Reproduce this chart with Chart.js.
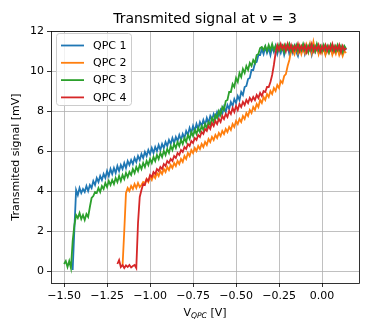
<!DOCTYPE html>
<html>
<head>
<meta charset="utf-8">
<script src="https://cdn.jsdelivr.net/npm/chart.js@4.4.1/dist/chart.umd.min.js"></script>
<style>
html,body{margin:0;padding:0;background:#fff;}
#wrap{width:374px;height:332px;}
</style>
</head>
<body>
<div id="wrap"><canvas id="c" width="374" height="332"></canvas></div>
<script>
const xGrid = [-1.50,-1.49,-1.48,-1.47,-1.46,-1.45,-1.44,-1.43,-1.42,-1.41,-1.40,-1.39,-1.38,-1.37,-1.36,-1.35,-1.34,-1.33,-1.32,-1.31,
-1.30,-1.29,-1.28,-1.27,-1.26,-1.25,-1.24,-1.23,-1.22,-1.21,-1.20,-1.19,-1.18,-1.17,-1.16,-1.15,-1.14,-1.13,-1.12,-1.11,
-1.10,-1.09,-1.08,-1.07,-1.06,-1.05,-1.04,-1.03,-1.02,-1.01,-1.00,-0.99,-0.98,-0.97,-0.96,-0.95,-0.94,-0.93,-0.92,-0.91,
-0.90,-0.89,-0.88,-0.87,-0.86,-0.85,-0.84,-0.83,-0.82,-0.81,-0.80,-0.79,-0.78,-0.77,-0.76,-0.75,-0.74,-0.73,-0.72,-0.71,
-0.70,-0.69,-0.68,-0.67,-0.66,-0.65,-0.64,-0.63,-0.62,-0.61,-0.60,-0.59,-0.58,-0.57,-0.56,-0.55,-0.54,-0.53,-0.52,-0.51,
-0.50,-0.49,-0.48,-0.47,-0.46,-0.45,-0.44,-0.43,-0.42,-0.41,-0.40,-0.39,-0.38,-0.37,-0.36,-0.35,-0.34,-0.33,-0.32,-0.31,
-0.30,-0.29,-0.28,-0.27,-0.26,-0.25,-0.24,-0.23,-0.22,-0.21,-0.20,-0.19,-0.18,-0.17,-0.16,-0.15,-0.14,-0.13,-0.12,-0.11,
-0.10,-0.09,-0.08,-0.07,-0.06,-0.05,-0.04,-0.03,-0.02,-0.01,0.00,0.01,0.02,0.03,0.04,0.05,0.06,0.07,0.08,0.09,
0.10,0.11,0.12,0.13,0.14];

// QPC 1 starts at V = -1.45
const qpc1Start = 5;
const qpc1 = [0.05,2.1,4.05,3.8,4.15,3.9,4.1,3.95,4.25,4.0,
4.3,4.15,4.5,4.3,4.65,4.45,4.75,4.55,4.85,4.65,
5.0,4.75,5.1,4.85,5.15,4.9,5.25,5.0,5.3,5.1,
5.4,5.15,5.5,5.3,5.55,5.35,5.65,5.45,5.75,5.55,
5.85,5.65,5.95,5.75,6.05,5.85,6.15,5.9,6.2,6.0,
6.3,6.05,6.35,6.15,6.45,6.25,6.55,6.35,6.65,6.4,
6.7,6.5,6.8,6.55,6.85,6.65,7.0,6.8,7.15,6.9,
7.25,7.0,7.35,7.1,7.45,7.25,7.55,7.3,7.65,7.4,
7.75,7.55,7.85,7.65,7.95,7.75,8.05,7.85,8.2,7.95,
8.3,8.1,8.45,8.25,8.6,8.4,8.75,8.55,8.95,8.8,
9.2,9.25,9.6,9.65,10.05,10.05,10.4,10.45,10.8,10.8,
11.1,10.85,11.2,10.9,11.15,10.8,11.2,10.95,11.25,10.85,
11.15,10.9,11.2,10.8,11.1,11.25,10.85,11.15,10.9,11.25,
10.95,10.75,11.15,10.95,11.25,10.85,11.15,10.95,11.2,10.8,
11.15,10.95,11.25,10.9,11.15,10.95,11.2,10.85,11.15,10.95,
11.25,10.9,11.15,10.95,11.2,10.9,11.15,10.95,11.2,11.05];

// QPC 2 starts at V = -1.16
const qpc2Start = 34;
const qpc2 = [0.25,2.0,3.9,4.15,4.0,4.25,4.1,4.35,4.15,4.4,
4.2,4.3,4.45,4.4,4.6,4.45,4.7,4.55,4.8,4.65,
4.9,4.75,5.0,4.85,5.1,4.95,5.2,5.05,5.3,5.15,
5.4,5.25,5.5,5.35,5.6,5.45,5.75,5.6,5.9,5.75,
6.05,5.9,6.15,6.0,6.25,6.1,6.35,6.2,6.45,6.3,
6.6,6.45,6.7,6.55,6.8,6.65,6.9,6.75,7.0,6.85,
7.1,6.95,7.2,7.05,7.35,7.2,7.5,7.35,7.6,7.45,
7.75,7.6,7.9,7.75,8.05,7.9,8.2,8.05,8.35,8.2,
8.55,8.4,8.7,8.55,8.85,8.7,9.0,8.85,9.15,9.0,
9.3,9.15,9.5,9.4,9.75,9.85,10.25,10.55,11.0,11.1,
10.85,11.2,10.9,11.25,10.85,11.15,10.9,11.3,10.95,11.35,
10.9,11.45,11.0,11.25,10.85,11.2,10.9,11.15,10.8,11.1,
10.9,11.2,10.8,11.05,10.85,11.15,10.8,11.05,10.75,11.0,
10.9];

// QPC 3 starts at V = -1.50
const qpc3Start = 0;
const qpc3 = [0.35,0.5,0.2,0.5,0.15,1.5,2.3,2.8,2.65,2.9,
2.6,2.8,2.55,2.85,2.7,3.2,3.65,3.75,3.95,3.9,
4.15,3.95,4.25,4.1,4.4,4.2,4.5,4.3,4.55,4.35,
4.65,4.45,4.75,4.5,4.8,4.6,4.9,4.7,4.95,4.8,
5.1,4.9,5.2,5.0,5.3,5.1,5.4,5.2,5.5,5.3,
5.6,5.4,5.7,5.5,5.8,5.6,5.9,5.7,6.0,5.8,
6.1,5.9,6.25,6.05,6.35,6.15,6.45,6.25,6.55,6.35,
6.65,6.45,6.8,6.6,6.95,6.75,7.05,6.85,7.15,6.95,
7.25,7.05,7.35,7.15,7.45,7.3,7.65,7.45,7.8,7.65,
8.0,7.8,8.2,8.05,8.5,8.55,8.95,8.95,9.35,9.2,
9.65,9.45,9.9,9.7,10.1,9.9,10.25,10.05,10.4,10.25,
10.55,10.4,10.8,10.85,11.15,11.2,11.05,11.25,11.0,11.3,
11.05,11.35,11.05,11.25,11.0,11.3,11.05,11.25,10.95,11.3,
11.1,11.35,11.0,11.25,11.05,11.3,11.0,11.25,11.05,11.35,
11.05,11.25,10.95,11.3,11.05,11.25,11.0,11.35,11.05,11.25,
11.0,11.3,11.05,11.25,10.95,11.3,11.05,11.25,11.0,11.3,
11.05,11.25,10.95,11.25,11.1];

// QPC 4 starts at V = -1.19
const qpc4Start = 31;
const qpc4 = [0.35,0.55,0.2,0.3,0.15,0.28,0.2,0.3,0.18,0.25,
0.3,0.15,2.4,3.7,4.05,4.35,4.3,4.6,4.5,4.8,
4.7,4.95,4.85,5.1,5.0,5.2,5.1,5.35,5.25,5.5,
5.4,5.6,5.5,5.75,5.65,5.9,5.8,6.05,5.95,6.2,
6.1,6.35,6.25,6.5,6.4,6.65,6.55,6.8,6.7,6.95,
6.85,7.1,7.0,7.25,7.1,7.4,7.25,7.5,7.35,7.6,
7.45,7.75,7.6,7.85,7.7,8.0,7.85,8.15,7.95,8.25,
8.05,8.35,8.2,8.45,8.3,8.55,8.4,8.65,8.5,8.7,
8.55,8.8,8.65,8.9,8.75,9.0,8.95,9.2,9.2,9.45,
9.8,10.3,10.9,11.3,11.05,11.35,11.1,11.3,11.0,11.35,
11.05,11.3,11.0,11.25,11.05,11.35,11.0,11.25,11.05,11.3,
10.95,11.25,11.05,11.35,11.0,11.25,11.05,11.3,10.95,11.25,
11.05,11.3,11.0,11.25,11.05,11.35,11.0,11.25,11.05,11.3,
10.95,11.25,11.05,11.15];

const seriesNames = ['QPC 1','QPC 2','QPC 3','QPC 4'];
const seriesColors = ['#1f77b4','#ff7f0e','#2ca02c','#d62728'];
const xTicks = [-1.5,-1.25,-1.0,-0.75,-0.5,-0.25,0.0];
const xTickLabels = ['\u22121.50','\u22121.25','\u22121.00','\u22120.75','\u22120.50','\u22120.25','0.00'];
const yTicks = [0,2,4,6,8,10,12];
const yTickLabels = ['0','2','4','6','8','10','12'];
const titleText = 'Transmited signal at \u03BD = 3';
const yTitle = 'Transmited signal [mV]';

function pts(start, ys){ return ys.map((y,i)=>({x:xGrid[start+i], y:y})); }

const FONT = "'DejaVu Sans', sans-serif";
const TICK_SIZE = 11;

const decor = {
  id:'decor',
  afterDatasetsDraw(chart){
    const ctx = chart.ctx, a = chart.chartArea;
    ctx.save();
    // spines
    ctx.strokeStyle = '#000'; ctx.lineWidth = 0.8;
    ctx.strokeRect(Math.round(a.left)+0.5, Math.round(a.top)+0.5, Math.round(a.right-a.left), Math.round(a.bottom-a.top));
    // legend
    const lx=56.5, ly=33.5, lw=75, lh=72, r=3;
    ctx.beginPath();
    ctx.moveTo(lx+r,ly); ctx.lineTo(lx+lw-r,ly); ctx.arcTo(lx+lw,ly,lx+lw,ly+r,r);
    ctx.lineTo(lx+lw,ly+lh-r); ctx.arcTo(lx+lw,ly+lh,lx+lw-r,ly+lh,r);
    ctx.lineTo(lx+r,ly+lh); ctx.arcTo(lx,ly+lh,lx,ly+lh-r,r);
    ctx.lineTo(lx,ly+r); ctx.arcTo(lx,ly,lx+r,ly,r); ctx.closePath();
    ctx.fillStyle='rgba(255,255,255,0.8)'; ctx.fill();
    ctx.strokeStyle='#cccccc'; ctx.lineWidth=1; ctx.stroke();
    ctx.font = TICK_SIZE+'px '+FONT; ctx.textBaseline='middle'; ctx.textAlign='left';
    for(let i=0;i<4;i++){
      const yy = 45.5 + i*17.3;
      ctx.strokeStyle=seriesColors[i]; ctx.lineWidth=1.8;
      ctx.beginPath(); ctx.moveTo(61,yy); ctx.lineTo(84,yy); ctx.stroke();
      ctx.fillStyle='#000'; ctx.fillText(seriesNames[i], 93, yy+0.5);
    }
    // title
    const cx = (a.left+a.right)/2;
    ctx.font = '14px '+FONT; ctx.textAlign='center'; ctx.textBaseline='alphabetic';
    ctx.fillStyle='#000';
    ctx.fillText(titleText, cx, 23);
    // x title with subscript
    ctx.font = TICK_SIZE+'px '+FONT;
    const p1='V', p3=' [V]';
    const subFont = 'italic 7.7px '+FONT;
    const w1 = ctx.measureText(p1).width, w3 = ctx.measureText(p3).width;
    ctx.font = subFont; const w2 = ctx.measureText('QPC').width;
    let sx = cx - (w1+w2+w3)/2; const by = 316;
    ctx.textAlign='left';
    ctx.font = TICK_SIZE+'px '+FONT; ctx.fillText(p1, sx, by); sx+=w1;
    ctx.font = subFont; ctx.fillText('QPC', sx, by+2); sx+=w2;
    ctx.font = TICK_SIZE+'px '+FONT; ctx.fillText(p3, sx, by);
    // y title
    ctx.save();
    ctx.translate(16, (a.top+a.bottom)/2); ctx.rotate(-Math.PI/2);
    ctx.textAlign='center'; ctx.textBaseline='middle';
    ctx.fillText(yTitle, 0, 0);
    ctx.restore();
    ctx.restore();
  }
};

new Chart(document.getElementById('c'), {
  type:'line',
  data:{ datasets:[
    {label:seriesNames[0], data:pts(qpc1Start,qpc1), borderColor:seriesColors[0], order:3},
    {label:seriesNames[1], data:pts(qpc2Start,qpc2), borderColor:seriesColors[1], order:2},
    {label:seriesNames[2], data:pts(qpc3Start,qpc3), borderColor:seriesColors[2], order:1},
    {label:seriesNames[3], data:pts(qpc4Start,qpc4), borderColor:seriesColors[3], order:0}
  ]},
  options:{
    responsive:false, animation:false, devicePixelRatio:1,
    layout:{padding:{left:0,right:15,top:31,bottom:0}},
    elements:{ line:{borderWidth:1.8, tension:0, fill:false}, point:{radius:0} },
    plugins:{ legend:{display:false}, title:{display:false}, tooltip:{enabled:false} },
    scales:{
      x:{ type:'linear', min:-1.576, max:0.215,
        afterFit(s){ s.height = 49; },
        afterBuildTicks(s){ s.ticks = xTicks.map(v=>({value:v})); },
        ticks:{ autoSkip:false, maxRotation:0, padding:3, color:'#000', font:{family:FONT,size:TICK_SIZE},
          callback(v){ const i = xTicks.indexOf(v); return i>=0 ? xTickLabels[i] : ''; } },
        grid:{ color:'#b0b0b0', lineWidth:0.8, tickColor:'#000', tickLength:4, tickWidth:0.8 },
        border:{display:false}
      },
      y:{ type:'linear', min:-0.6, max:12,
        afterFit(s){ s.width = 51; },
        afterBuildTicks(s){ s.ticks = yTicks.map(v=>({value:v})); },
        ticks:{ padding:3, color:'#000', font:{family:FONT,size:TICK_SIZE},
          callback(v){ const i = yTicks.indexOf(v); return i>=0 ? yTickLabels[i] : ''; } },
        grid:{ color:'#b0b0b0', lineWidth:0.8, tickColor:'#000', tickLength:4, tickWidth:0.8 },
        border:{display:false}
      }
    }
  },
  plugins:[decor]
});
</script>
</body>
</html>
